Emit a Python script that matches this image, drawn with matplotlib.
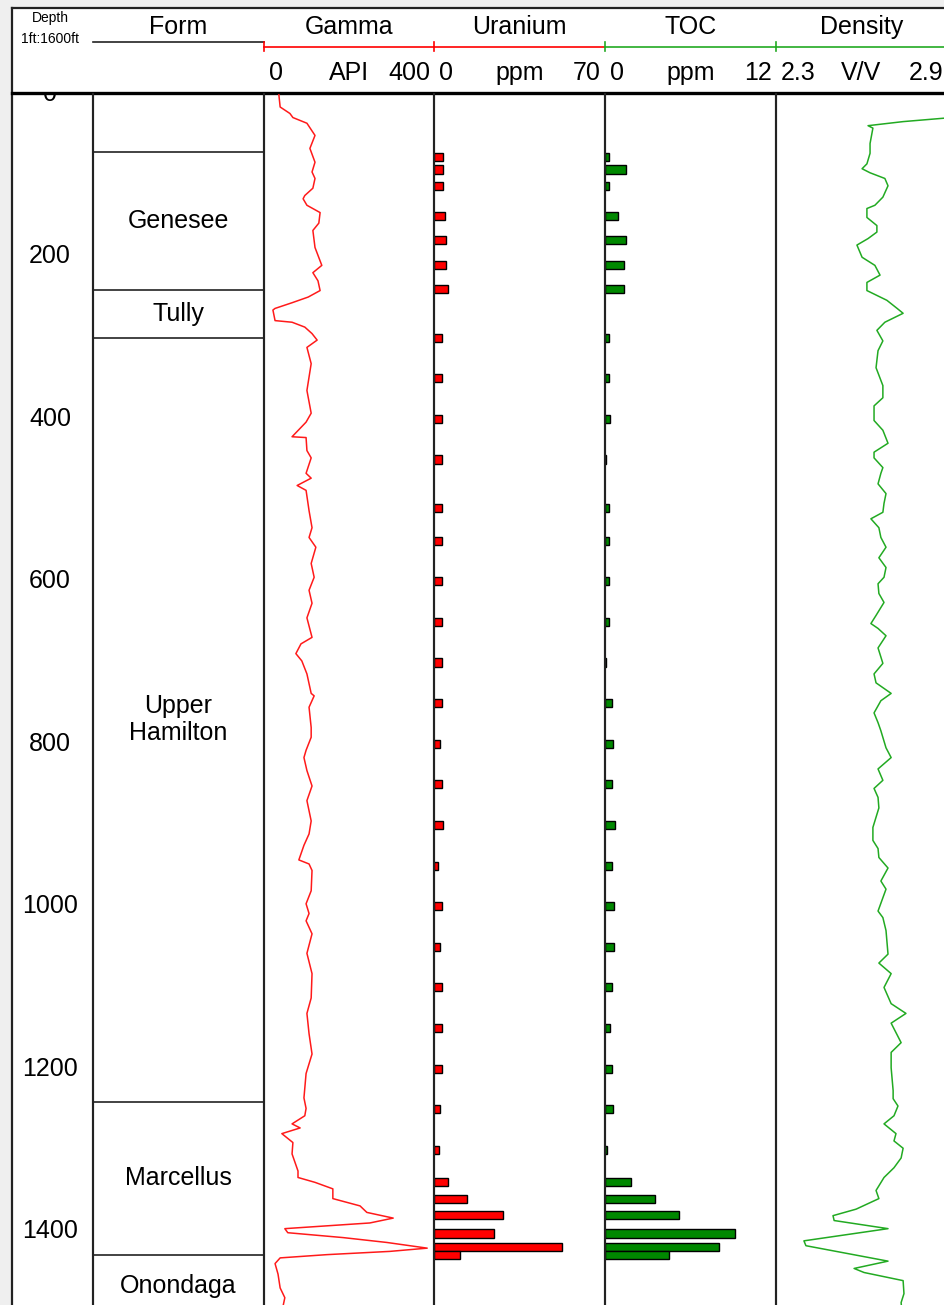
import matplotlib.pyplot as plt
from matplotlib.patches import Rectangle

plt.rcParams['font.family'] = ['Liberation Sans', 'DejaVu Sans']

W, H = 944, 1305

# formation tops (ft) and names
form_names = ['', 'Genesee', 'Tully', 'Upper\nHamilton', 'Marcellus', 'Onondaga']
form_tops = [0, 71, 241, 300, 1241, 1429]
form_base = 1506

# core sample depths with lab uranium (ppm) and TOC (wt%)
core_depth = [78, 93, 113, 150, 180, 210, 240, 300, 350, 400, 450, 510, 550,
              600, 650, 700, 750, 800, 850, 900, 950, 1000, 1050, 1100, 1150,
              1200, 1250, 1300, 1340, 1361, 1380, 1403, 1420, 1429]
uranium = [3.7, 3.7, 3.7, 4.5, 5.1, 5.1, 5.7, 3.1, 3.1, 3.1, 3.1, 3.1, 3.1,
           3.1, 3.1, 3.1, 3.1, 2.5, 3.1, 3.8, 1.8, 3.1, 2.5, 3.1, 3.1,
           3.1, 2.5, 1.9, 5.7, 13.5, 28.2, 24.6, 52.4, 10.6]
toc = [0.25, 1.5, 0.25, 0.9, 1.5, 1.3, 1.3, 0.25, 0.25, 0.35, 0.1, 0.25, 0.25,
       0.25, 0.25, 0.1, 0.5, 0.55, 0.5, 0.7, 0.5, 0.6, 0.6, 0.5, 0.35,
       0.5, 0.55, 0.12, 1.8, 3.5, 5.2, 9.1, 8.0, 4.5]

# gamma ray log
gr_depth = [1, 16, 24, 29, 36, 51, 67, 84, 96, 104, 116, 125, 129, 137, 146,
            159, 168, 189, 211, 220, 230, 242, 250, 257, 264, 266, 279, 281,
            287, 295, 303, 312, 332, 365, 393, 404, 422, 423, 439, 448, 467,
            473, 482, 488, 513, 534, 546, 558, 578, 595, 611, 627, 645, 669,
            677, 689, 698, 714, 738, 741, 755, 780, 792, 808, 817, 833, 852,
            870, 895, 911, 925, 943, 948, 956, 981, 997, 1009, 1018, 1034,
            1058, 1083, 1113, 1132, 1157, 1182, 1206, 1236, 1249, 1258, 1268,
            1273, 1280, 1291, 1305, 1326, 1334, 1340, 1348, 1360, 1369, 1377,
            1384, 1390, 1397, 1402, 1408, 1414, 1421, 1425, 1429, 1433, 1440,
            1453, 1470, 1482, 1492]
gr_api = [35, 38, 61, 68, 101, 120, 108, 120, 113, 120, 115, 96, 92, 101, 132,
          129, 115, 120, 136, 115, 127, 132, 104, 66, 26, 21, 26, 66,
          96, 113, 125, 101, 111, 101, 111, 99, 66, 99, 101, 111, 99,
          111, 78, 99, 106, 113, 106, 122, 111, 118, 106, 113, 101, 113,
          87, 75, 89, 101, 111, 118, 106, 111, 111, 99, 94, 101, 113,
          101, 111, 106, 94, 82, 106, 113, 111, 99, 106, 99, 113,
          101, 113, 111, 101, 106, 113, 99, 94, 99, 96, 66,
          85, 42, 68, 66, 80, 80, 120, 162, 162, 226, 242,
          304, 249, 49, 56, 186, 289, 384, 296, 148, 38, 26,
          33, 38, 49, 45]

# bulk density log
den_depth = [28, 34, 39, 42, 61, 73, 86, 92, 97, 104, 113, 127, 137, 141, 152,
             162, 170, 178, 186, 201, 211, 223, 232, 242, 254, 264, 270, 281,
             291, 304, 316, 337, 359, 374, 384, 402, 414, 430, 441, 448, 460,
             467, 480, 492, 504, 515, 523, 534, 546, 558, 571, 583, 595, 603,
             615, 626, 642, 652, 658, 667, 682, 701, 714, 725, 738, 747, 762,
             774, 784, 805, 817, 831, 845, 855, 866, 879, 903, 919, 929, 940,
             953, 969, 979, 1006, 1014, 1030, 1059, 1070, 1083, 1100, 1120,
             1132, 1144, 1168, 1180, 1199, 1227, 1237, 1246, 1258, 1268, 1280,
             1289, 1298, 1310, 1322, 1334, 1350, 1360, 1373, 1381, 1387, 1397,
             1412, 1418, 1437, 1446, 1451, 1461, 1477, 1488, 1492]
den_rhob = [2.95, 2.746, 2.623, 2.640, 2.630, 2.630, 2.619, 2.602, 2.630, 2.682,
            2.693, 2.675, 2.647, 2.619, 2.619, 2.654, 2.654, 2.623, 2.584, 2.602,
            2.647, 2.665, 2.619, 2.619, 2.689, 2.725, 2.746, 2.682, 2.654, 2.675,
            2.658, 2.651, 2.675, 2.675, 2.644, 2.644, 2.675, 2.693, 2.644, 2.644,
            2.675, 2.668, 2.658, 2.686, 2.679, 2.675, 2.633, 2.661, 2.668, 2.686,
            2.661, 2.686, 2.679, 2.658, 2.661, 2.679, 2.651, 2.633, 2.658, 2.686,
            2.658, 2.675, 2.644, 2.651, 2.704, 2.668, 2.644, 2.658, 2.668, 2.686,
            2.704, 2.658, 2.675, 2.644, 2.658, 2.661, 2.640, 2.640, 2.658, 2.661,
            2.693, 2.668, 2.686, 2.658, 2.675, 2.686, 2.693, 2.661, 2.704, 2.679,
            2.704, 2.756, 2.704, 2.739, 2.704, 2.704, 2.711, 2.711, 2.728, 2.714,
            2.679, 2.721, 2.714, 2.746, 2.739, 2.714, 2.679, 2.651, 2.661, 2.581,
            2.500, 2.504, 2.693, 2.398, 2.405, 2.693, 2.574, 2.609, 2.746, 2.749,
            2.739, 2.74]

# track layout in pixels
edges = [12, 93, 264, 434, 605, 776, 947]
top, head_top = 94, 8
depth_max = 1491
fs = 18
line_col = '#222222'

fig = plt.figure(figsize=(W / 100, H / 100), dpi=100, facecolor='#efefef')


def px_axes(x0, y0, x1, y1, **kw):
    return fig.add_axes([x0 / W, 1 - y1 / H, (x1 - x0) / W, (y1 - y0) / H], **kw)


# page axes in pixel units for the header
page = fig.add_axes([0, 0, 1, 1], zorder=0)
page.set_xlim(0, W)
page.set_ylim(H, 0)
page.axis('off')
page.add_patch(Rectangle((edges[0], head_top), W - edges[0], H - head_top,
                         facecolor='white', edgecolor='none'))
page.plot([edges[0], edges[0]], [head_top, H], color=line_col, lw=1.6)
page.plot([edges[0], W], [head_top, head_top], color=line_col, lw=1.6)
page.plot([edges[0], W], [top - 1, top - 1], color='black', lw=2.4)

page.text(50, 18, 'Depth', ha='center', va='center', fontsize=10)
page.text(50, 39, '1ft:1600ft', ha='center', va='center', fontsize=10)
page.plot([edges[1], edges[2]], [42, 42], color=line_col, lw=1.2)

titles = ['Form', 'Gamma', 'Uranium', 'TOC', 'Density']
for i, t in enumerate(titles):
    page.text((edges[i + 1] + edges[i + 2]) / 2, 27, t, ha='center', va='center', fontsize=fs)

scales = [('0', 'API', '400', 'red'), ('0', 'ppm', '70', 'red'),
          ('0', 'ppm', '12', '#22aa22'), ('2.3', 'V/V', '2.9', '#22aa22')]
for i, (lo, unit, hi, col) in enumerate(scales):
    x0, x1 = edges[i + 2], edges[i + 3]
    page.plot([x0, x1], [47, 47], color=col, lw=1.2)
    page.plot([x0, x0], [42, 51], color=col, lw=1.2)
    page.text(x0 + 5, 73, lo, ha='left', va='center', fontsize=fs)
    page.text((x0 + x1) / 2, 73, unit, ha='center', va='center', fontsize=fs)
    page.text(x1 - 4, 73, hi, ha='right', va='center', fontsize=fs)

# log tracks
tracks = []
for i in range(len(edges) - 1):
    ax = px_axes(edges[i], top, edges[i + 1], H, zorder=1)
    ax.set_facecolor('none')
    ax.set_ylim(depth_max, 0)
    ax.set_xticks([])
    ax.set_yticks([])
    for s in ['top', 'bottom']:
        ax.spines[s].set_visible(False)
    for s in ['left', 'right']:
        ax.spines[s].set_color(line_col)
        ax.spines[s].set_linewidth(1.5)
    tracks.append(ax)

ax_d, ax_f, ax_gr, ax_u, ax_toc, ax_den = tracks

# depth labels
ax_d.set_xlim(0, 1)
ax_d.spines['left'].set_visible(False)
for d in range(0, 1600, 200):
    ax_d.text(0.47, d, str(d), ha='center', va='center', fontsize=fs, clip_on=True)

# formations
ax_f.set_xlim(0, 1)
bounds = form_tops[1:] + [form_base]
for name, t, b in zip(form_names, form_tops, bounds):
    if t > 0:
        ax_f.axhline(t, color=line_col, lw=1.2)
    if name:
        ax_f.text(0.5, (t + b) / 2, name, ha='center', va='center', fontsize=fs,
                  linespacing=1.15, clip_on=True)

# gamma ray
ax_gr.set_xlim(0, 400)
ax_gr.plot(gr_api, gr_depth, color='#ff1a1a', lw=1.1)

# uranium bars
ax_u.set_xlim(0, 70)
ax_u.barh(core_depth, uranium, height=10, left=0, color='#ff0000',
          edgecolor='black', linewidth=1.0)

# TOC bars
ax_toc.set_xlim(0, 12)
ax_toc.barh(core_depth, toc, height=10, left=0, color='#008800',
            edgecolor='black', linewidth=1.0)

# bulk density
ax_den.set_xlim(2.3, 2.9)
ax_den.plot(den_rhob, den_depth, color='#22aa22', lw=1.1)

fig.savefig('out.png', dpi=100, facecolor=fig.get_facecolor())
